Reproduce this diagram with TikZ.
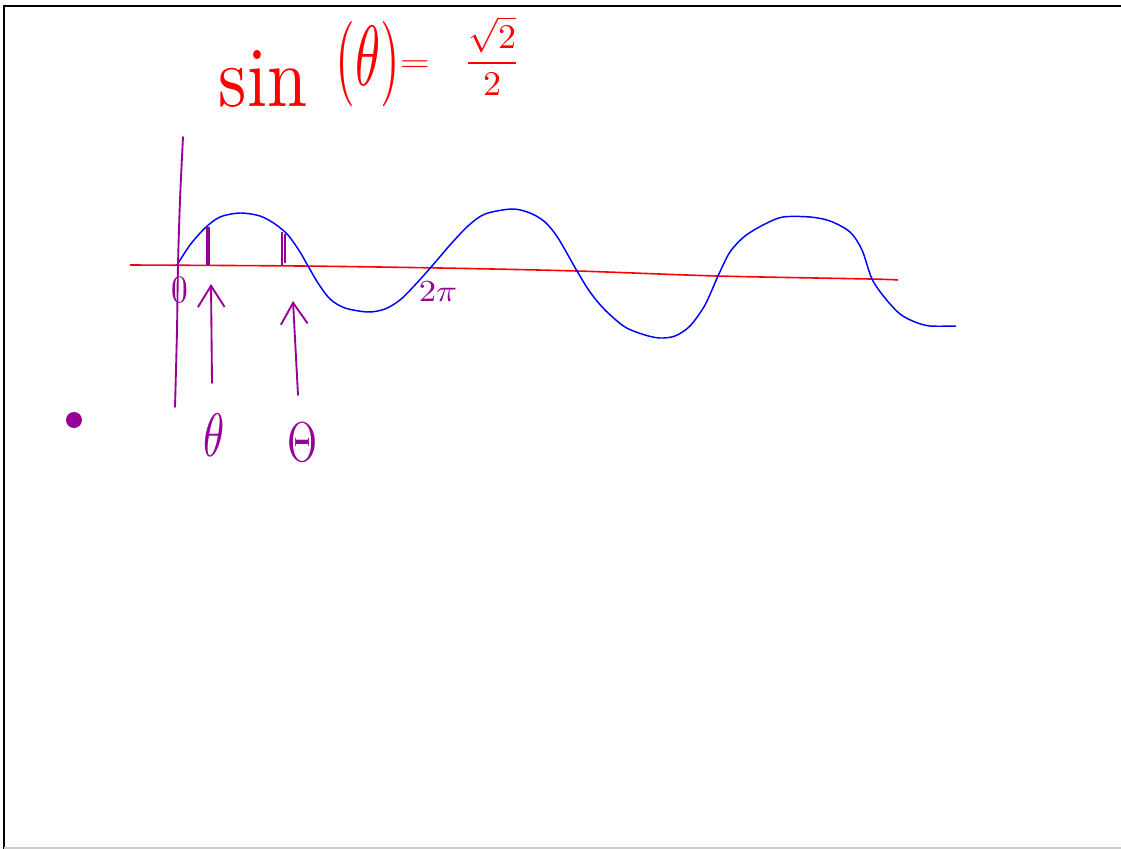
\documentclass[tikz,border=0pt]{standalone}
\usetikzlibrary{arrows.meta}
\definecolor{pen}{RGB}{150,0,150}
\definecolor{penred}{RGB}{255,0,0}
\definecolor{penblue}{RGB}{0,0,255}
\tikzset{
  redink/.style={text=penred, inner sep=0pt},
  purpleink/.style={text=pen, inner sep=0pt},
  pstroke/.style={draw=pen, line width=1.4pt, line cap=round, line join=round},
  parrow/.style={pstroke, -{Straight Barb[length=16pt, width=20pt, line width=1.4pt]}},
}
\begin{document}
\begin{tikzpicture}[x=0.75pt, y=-0.75pt]
\useasboundingbox (0,0) rectangle (1121,849);
% frame
\draw[line width=2.2pt] (4,849) -- (4,6) -- (1121,6);
\draw[black!20, line width=1pt] (4,848) -- (1121,848);
% title
\node[redink, anchor=base] (sin) at (263,107) {\scalebox{5.4}[6.4]{sin}};
\node[redink, anchor=base] (arg) at (368,86) {\scalebox{3.8}[6.4]{$(\theta)$}};
\node[redink] (eq) at (415,66) {\scalebox{2.9}[2.2]{$=$}};
\node[redink] (val) at (492,56) {\scalebox{2.7}[2.6]{$\displaystyle\frac{\sqrt{2}}{2}$}};
% horizontal axis (red)
\draw[penred, line width=1.2pt] plot[smooth] coordinates {(130,265) (300,266) (440,268) (577,271) (717,276) (870,279) (898,280)};
% sine curve (blue)
\draw[penblue, line width=1.1pt] plot[smooth, tension=0.5] coordinates {
(177,265) (190,245) (205,228) (220,217) (240,213) (260,216) (275,224) (288,235) (300,252) (308,266)
(318,283) (330,299) (345,308) (368,312) (385,309) (400,300) (415,285) (432,266) (450,245) (468,226)
(485,214) (512,209) (530,213) (545,222) (558,238) (577,271) (590,292) (605,310) (625,327) (645,335)
(660,338) (675,336) (690,326) (705,305) (718,276) (730,252) (745,236) (765,224) (783,217) (810,217)
(830,221) (850,232) (862,250) (872,279) (885,298) (900,314) (915,322) (930,326) (956,326)};
% vertical axis (purple)
\draw[pstroke] plot[smooth] coordinates {(183,137) (180,200) (178,265) (177,330) (175,407)};
% tick marks
\draw[draw=pen, line width=3pt] (208,227) -- (208,265);
\draw[draw=pen, line width=1.2pt] (282,232) -- (282,265);
\draw[draw=pen, line width=1.2pt] (285,234) -- (285,263);
% labels
\node[purpleink] (zero) at (180,290) {\scalebox{2.5}[2.9]{0}};
\node[purpleink] (twopi) at (438,292) {\scalebox{2.6}[2.3]{$2\pi$}};
\node[purpleink] (th1) at (214,435) {\scalebox{3.2}[4.6]{$\theta$}};
\node[purpleink] (th2) at (303,442) {\scalebox{2.9}[4.2]{$\Theta$}};
% arrows
\coordinate (a1s) at (212,383);
\coordinate (a1e) at (211,284);
\coordinate (a2s) at (298,395);
\coordinate (a2e) at (293,301);
\draw[parrow] (a1s) -- (a1e);
\draw[parrow] (a2s) -- (a2e);
% dot
\fill[pen] (74,420) circle (8);
\end{tikzpicture}
\end{document}
